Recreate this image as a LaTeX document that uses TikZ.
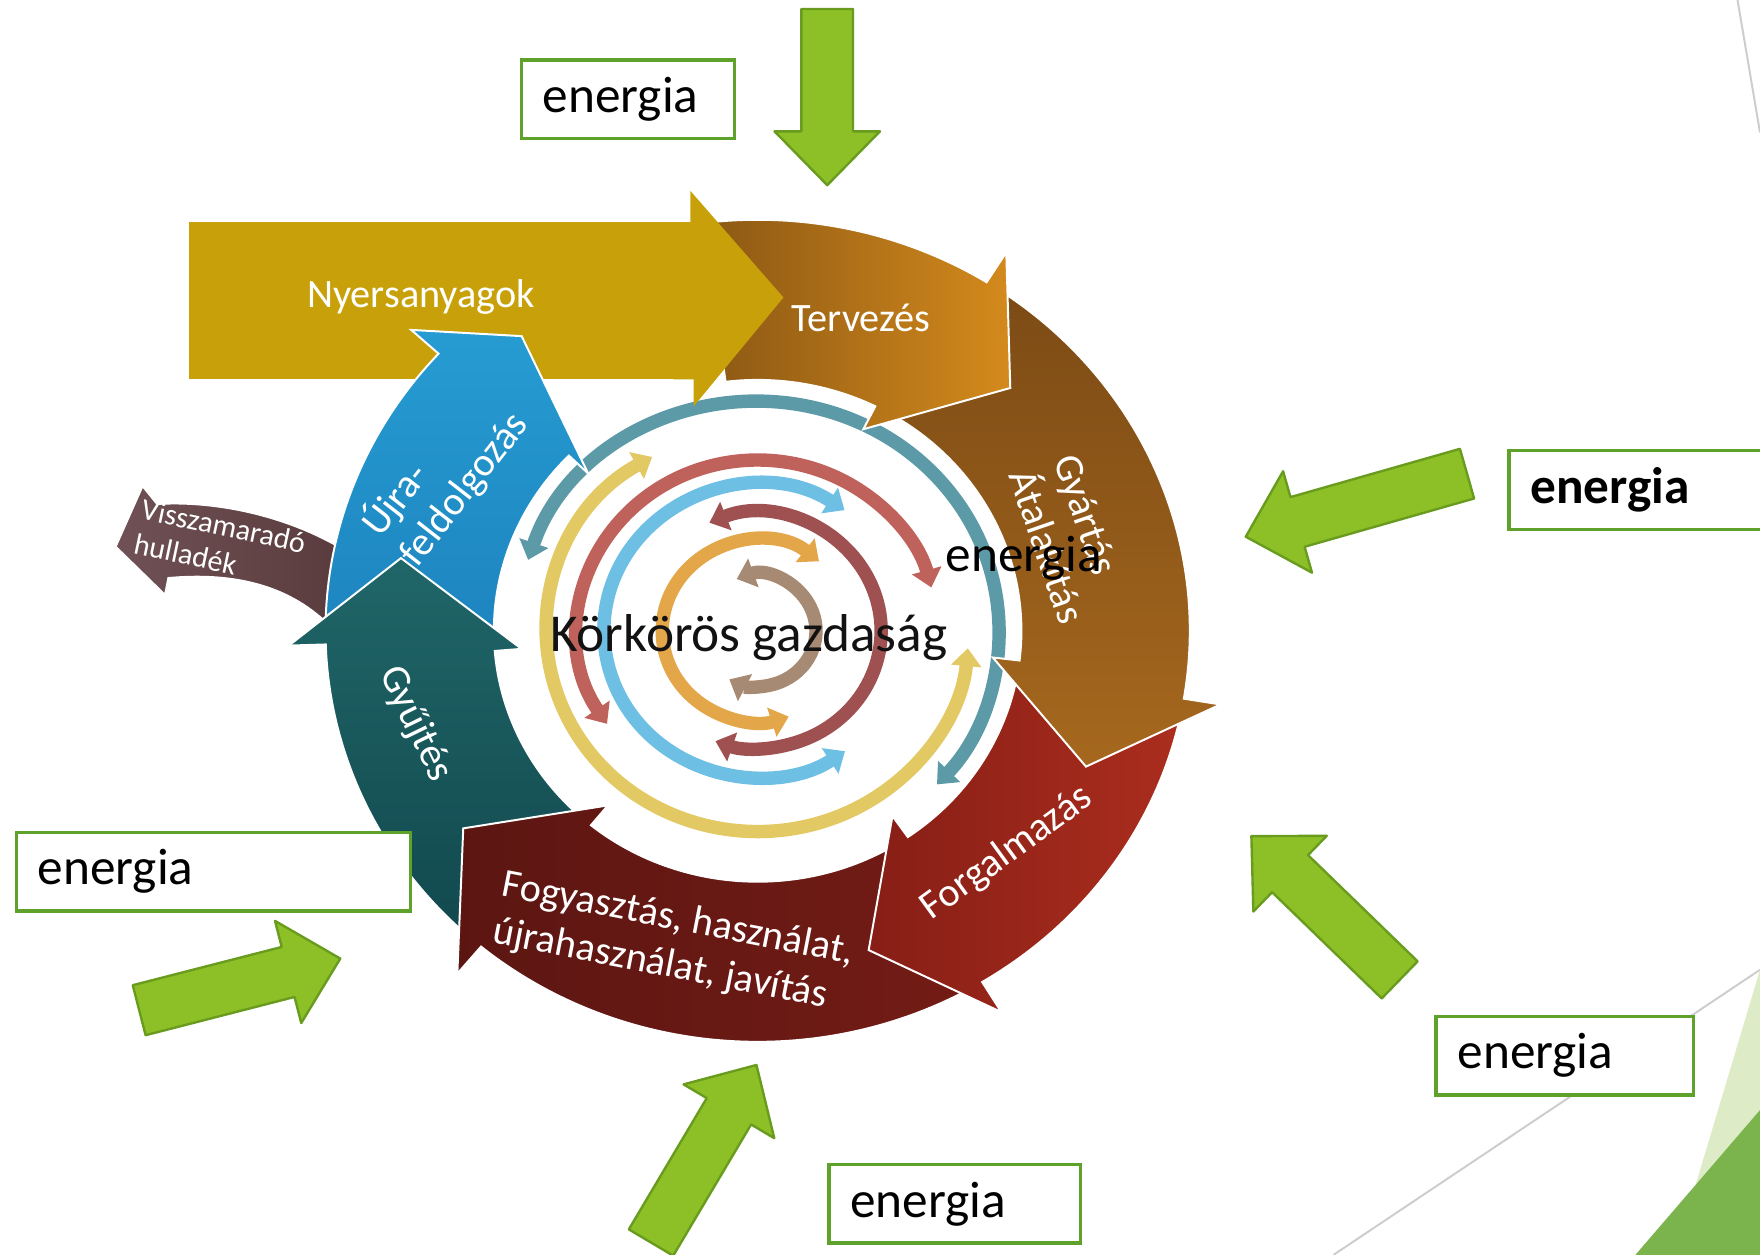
\documentclass[tikz,border=0pt]{standalone}
\usepackage{fontspec}
\setmainfont{Carlito}
\usetikzlibrary{arrows.meta,positioning}

\definecolor{boxgreen}{RGB}{94,162,44}
\definecolor{arrowgreen}{RGB}{141,192,38}
\definecolor{arrowedge}{RGB}{104,155,30}
\definecolor{slidegrey}{RGB}{205,205,205}
\definecolor{leafpale}{RGB}{221,235,198}
\definecolor{leafdark}{RGB}{123,180,76}
\definecolor{nyers}{RGB}{200,161,10}
\definecolor{tervdark}{RGB}{140,88,20}
\definecolor{tervlight}{RGB}{212,138,28}
\definecolor{gyartdark}{RGB}{120,72,20}
\definecolor{gyartlight}{RGB}{166,104,30}
\definecolor{forgdark}{RGB}{135,30,22}
\definecolor{forglight}{RGB}{172,46,30}
\definecolor{fogydark}{RGB}{92,22,18}
\definecolor{fogylight}{RGB}{118,28,22}
\definecolor{gyujtlight}{RGB}{32,102,104}
\definecolor{gyujtdark}{RGB}{16,70,76}
\definecolor{ujralight}{RGB}{38,156,210}
\definecolor{ujradark}{RGB}{28,128,188}
\definecolor{hulllight}{RGB}{112,82,86}
\definecolor{hulldark}{RGB}{90,60,62}
\definecolor{ringteal}{RGB}{91,154,166}
\definecolor{ringyellow}{RGB}{227,201,100}
\definecolor{ringsalmon}{RGB}{192,98,92}
\definecolor{ringblue}{RGB}{109,191,227}
\definecolor{ringrose}{RGB}{159,81,82}
\definecolor{ringorange}{RGB}{227,166,72}
\definecolor{ringtaupe}{RGB}{166,138,115}

\tikzset{
  ebox/.style={draw=boxgreen, line width=0.85pt, fill=white, inner xsep=0.19cm,
    inner ysep=0pt, minimum height=0.7cm, align=left, anchor=north west,
    font=\fontsize{13}{15}\selectfont},
  greenarrow/.style={fill=arrowgreen, draw=arrowedge, line width=0.6pt, line join=round},
  band/.style={draw=white, line width=0.5pt},
  bandlabel/.style={text=white, font=\fontsize{10.2}{12}\selectfont},
  ringarrow/.style={line width=3.4pt,
    {Triangle[width=7.5pt,length=4.5pt]}-{Triangle[width=7.5pt,length=4.5pt]}},
  slideline/.style={draw=slidegrey, line width=0.5pt},
}

% green block arrow: tail, direction, length
\newcommand{\energyarrow}[3]{%
  \draw[greenarrow, shift={(#1)}, rotate=#2]
    (0,23) -- (#3-48,23) -- (#3-48,47) -- (#3,0) -- (#3-48,-47)
    -- (#3-48,-23) -- (0,-23) -- cycle;}

% curved band of the cycle: shading, start, outer barb, inner barb, tip
\newcommand{\cycleband}[5]{%
  \shadedraw[band,#1] (#2:385) arc[start angle=#2,end angle=#3,radius=385]
    -- (#3:418) -- (#5) -- (#4:211) -- (#4:235)
    arc[start angle=#4,end angle=#2,radius=235] -- cycle;}

\begin{document}
\begin{tikzpicture}[x=0.01cm, y=-0.01cm]
\useasboundingbox (0,0) rectangle (1568,1118);

% slide decoration
\draw[slideline] (1548,0) -- (1568,118);
\draw[slideline] (1188,1118) -- (1568,864);
\fill[leafpale] (1568,864) -- (1492,1118) -- (1568,1118) -- cycle;
\fill[leafdark] (1568,989) -- (1457,1118) -- (1568,1118) -- cycle;

% inner rings
\begin{scope}[shift={(675,562)}, x=0.01cm, y=0.0095cm]
  \draw[ringarrow, ringteal] (162:215) arc[start angle=162, end angle=-42, radius=215];
  \draw[ringarrow, ringyellow] (120:188) arc[start angle=120, end angle=355, radius=188];
  \draw[ringarrow, ringsalmon] (213:160) arc[start angle=213, end angle=14.7, radius=160];
  \draw[ringarrow, ringblue] (55.6:137) arc[start angle=55.6, end angle=304.6, radius=137];
  \draw[ringarrow, ringrose] (113:110) arc[start angle=113, end angle=-110, radius=110];
  \draw[ringarrow, ringorange] (50:85) arc[start angle=50, end angle=289, radius=85];
  \draw[ringarrow, ringtaupe] (111:52) arc[start angle=111, end angle=-119, radius=52];
\end{scope}

% waste arrow
\shadedraw[band, left color=hulllight, right color=hulldark]
  (300,486) .. controls (250,458) and (190,446) .. (140,449) -- (127,433)
  -- (103,487) -- (147,530) -- (150,515)
  .. controls (205,510) and (255,520) .. (292,556) -- cycle;

% raw materials
\fill[nyers] (168,198) rectangle (617,338);

% the cycle
\begin{scope}[shift={(675,562)}, x=0.01cm, y=0.0095cm]
  \cycleband{top color=ujralight, bottom color=ujradark}{188}{137.6}{135.7}{127.3:347}
  \cycleband{top color=gyujtlight, bottom color=gyujtdark}{235}{181.9}{184.6}{167.9:325}
  \cycleband{left color=fogydark, right color=fogylight}{308}{230.2}{230.8}{215.2:321}
  \cycleband{left color=forgdark, right color=forglight}{-3}{-58.7}{-55.3}{-71.7:315}
  \cycleband{top color=gyartdark, bottom color=gyartlight}{70}{-9.5}{-6.8}{-23.5:319}
  \cycleband{left color=tervdark, right color=tervlight}{97}{58}{63.5}{45.3:320}
\end{scope}
\fill[nyers] (600,198) -- (615,198) -- (615,170) -- (698,265) -- (618,362)
  -- (618,338) -- (600,338) -- cycle;

% labels
\node[bandlabel] (nyers) at (375,265) {Nyersanyagok};
\node[bandlabel] (terv) at (767,283) {Tervezés};
\node[bandlabel, align=left, rotate=-71] (gyart) at (953,480) {Gyártás\\Átalakítás};
\node[bandlabel, rotate=36] (forg) at (897,760) {Forgalmazás};
\node[bandlabel, align=left, rotate=-11] (fogy) at (600,840)
  {Fogyasztás, használat,\\újrahasználat, javítás};
\node[bandlabel, rotate=-64] (gyujt) at (370,645) {Gyűjtés};
\node[bandlabel, align=left, rotate=52] (ujra) at (396,422) {Újra-\\feldolgozás};
\node[bandlabel, align=left, rotate=-12, font=\fontsize{7.6}{9}\selectfont]
  (hullad) at (196,484) {Visszamaradó\\hulladék};
\node[font=\fontsize{13.5}{16}\selectfont, text=black!93] (korkoros) at (667,568)
  {Körkörös gazdaság};
\node[font=\fontsize{13}{15}\selectfont] (ecenter) at (912,497) {energia};

% energy boxes
\node[ebox, text width=1.52cm] (etop) at (463,52) {energia};
\node[ebox, text width=2.1cm, font=\fontsize{13}{15}\selectfont\bfseries] (eright) at (1343,400) {energia};
\node[ebox, text width=3.13cm] (eleft) at (13,740) {energia};
\node[ebox, text width=1.91cm] (ebottomright) at (1278,904) {energia};
\node[ebox, text width=1.86cm] (ebottom) at (737,1036) {energia};

% energy arrows
\coordinate (atop) at (737,8);
\coordinate (aright) at (1307,422);
\coordinate (abottomright) at (1247,873);
\coordinate (abottom) at (580,1107);
\coordinate (aleft) at (124,900);
\energyarrow{atop}{-90}{157}
\energyarrow{aright}{195.9}{205}
\energyarrow{abottomright}{135.9}{184}
\energyarrow{abottom}{59.3}{184}
\energyarrow{aleft}{14.4}{185}

\end{tikzpicture}
\end{document}
